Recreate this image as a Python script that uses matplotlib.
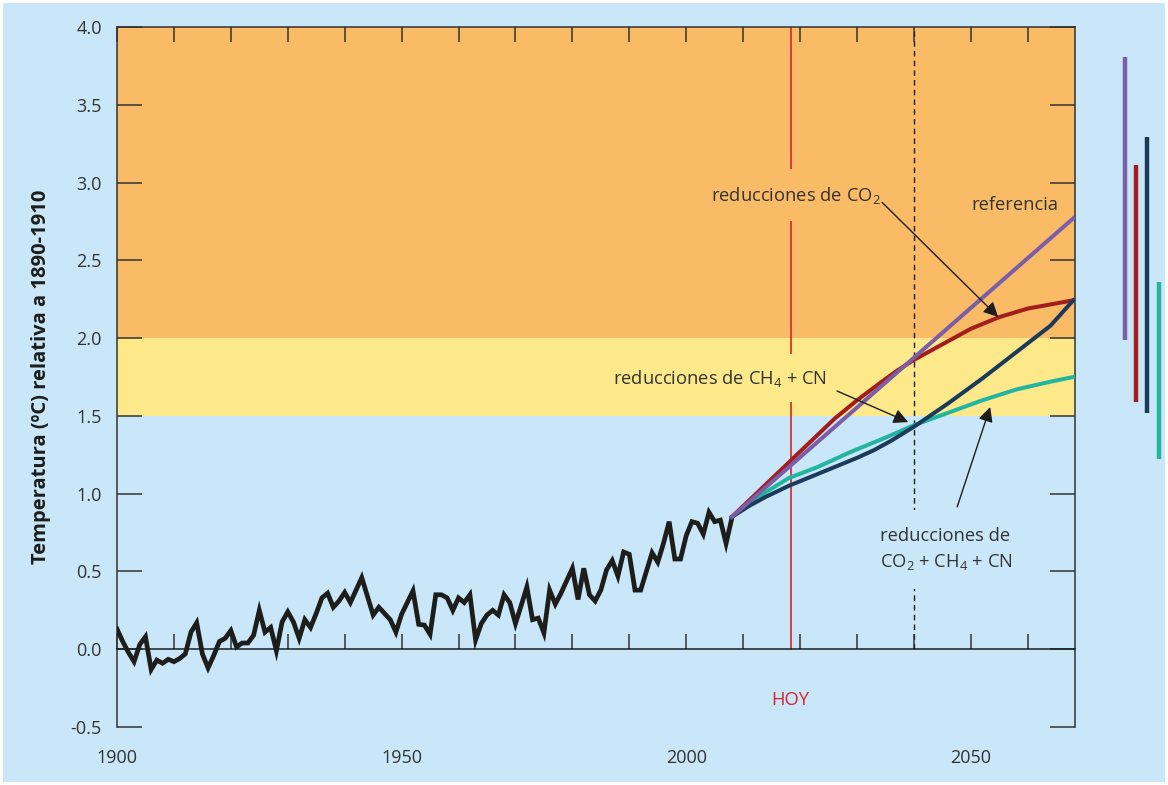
import matplotlib
matplotlib.use("Agg")
import matplotlib.pyplot as plt
from matplotlib.patches import Rectangle
from matplotlib.ticker import MultipleLocator, FixedLocator, FuncFormatter

plt.rcParams['font.family'] = ['Open Sans', 'DejaVu Sans']
plt.rcParams['mathtext.fontset'] = 'custom'
plt.rcParams['mathtext.rm'] = 'Open Sans'
plt.rcParams['mathtext.it'] = 'Open Sans:italic'
plt.rcParams['mathtext.bf'] = 'Open Sans:bold'

# ---- observed temperature anomaly (relative to 1890-1910) ----
obs_years = list(range(1900, 2009))
obs_temp = [
    0.13, 0.05, -0.02, -0.08, 0.03, 0.08, -0.13, -0.07, -0.09, -0.065,
    -0.08, -0.06, -0.03, 0.11, 0.17, -0.03, -0.12, -0.04, 0.05, 0.07,
    0.12, 0.015, 0.04, 0.04, 0.09, 0.25, 0.11, 0.14, -0.01, 0.175,
    0.24, 0.175, 0.07, 0.19, 0.14, 0.23, 0.33, 0.36, 0.27, 0.31,
    0.365, 0.30, 0.38, 0.46, 0.34, 0.22, 0.27, 0.23, 0.19, 0.11,
    0.225, 0.30, 0.375, 0.16, 0.155, 0.096, 0.35, 0.35, 0.33, 0.25,
    0.33, 0.30, 0.35, 0.06, 0.165, 0.22, 0.25, 0.22, 0.35, 0.30,
    0.165, 0.28, 0.40, 0.19, 0.20, 0.105, 0.38, 0.29, 0.36, 0.44,
    0.52, 0.32, 0.52, 0.35, 0.31, 0.38, 0.51, 0.57, 0.47, 0.625,
    0.61, 0.38, 0.38, 0.50, 0.62, 0.56, 0.68, 0.82, 0.58, 0.58,
    0.73, 0.82, 0.81, 0.74, 0.88, 0.82, 0.83, 0.68, 0.84,
]

# ---- scenario projections ----
ref_years = [2008, 2068]
ref_temp = [0.85, 2.77]

co2_years = [2008, 2014, 2018, 2022, 2026, 2030, 2034, 2037, 2040, 2045, 2050, 2055, 2060, 2068]
co2_temp = [0.85, 1.06, 1.20, 1.34, 1.48, 1.60, 1.71, 1.79, 1.86, 1.96, 2.06, 2.135, 2.19, 2.243]

all_years = [2008, 2011, 2014, 2018, 2022, 2026, 2030, 2033, 2036, 2040, 2046, 2052, 2058, 2064, 2068]
all_temp = [0.85, 0.92, 0.98, 1.05, 1.11, 1.17, 1.23, 1.28, 1.34, 1.43, 1.58, 1.74, 1.91, 2.08, 2.243]

ch4_years = [2008, 2011, 2014, 2018, 2023, 2029, 2035, 2040, 2046, 2052, 2058, 2064, 2068]
ch4_temp = [0.85, 0.93, 1.01, 1.10, 1.17, 1.27, 1.36, 1.44, 1.52, 1.60, 1.67, 1.72, 1.75]

# uncertainty ranges shown to the right of the plot
range_x = [2077, 2079, 2081, 2083]
range_lo = [1.99, 1.59, 1.52, 1.22]
range_hi = [3.81, 3.11, 3.29, 2.36]

# ---- styling ----
BG = '#c9e7f8'
ORANGE = '#f9bb66'
YELLOW = '#fde98a'
TXT = '#333333'
BLACK = '#1d1d1b'
C_REF = '#7b5ea7'
C_CO2 = '#a31d1d'
C_ALL = '#1b3a5c'
C_CH4 = '#22b5a0'
C_HOY = '#d6252b'
range_colors = [C_REF, C_CO2, C_ALL, C_CH4]
FS = 13.2

fig = plt.figure(figsize=(11.68, 7.85), dpi=100, facecolor='white')
fig.patches.append(Rectangle((3 / 1168, 3 / 785), 1 - 6 / 1168, 1 - 6 / 785,
                             transform=fig.transFigure, facecolor=BG,
                             edgecolor='none', zorder=-10))

ax = fig.add_axes([117 / 1168, 58 / 785, 958 / 1168, 700 / 785])
ax.set_facecolor(BG)
ax.set_xlim(1900, 2068.3)
ax.set_ylim(-0.5, 4.0)

# warming bands
ax.axhspan(2.0, 4.0, color=ORANGE, lw=0, zorder=0.2)
ax.axhspan(1.5, 2.0, color=YELLOW, lw=0, zorder=0.2)

# "today" and 2040 markers
ax.axvline(2018.4, ymin=0.5 / 4.5, ymax=1, color=C_HOY, lw=1.2, zorder=1)
ax.axvline(2040, ymin=0.5 / 4.5, ymax=1, color=BLACK, lw=1.0,
           dashes=(4, 3), zorder=1)

# series
ax.plot(obs_years, obs_temp, color=BLACK, lw=3.4, solid_joinstyle='miter',
        zorder=5)
ax.plot(ch4_years, ch4_temp, color=C_CH4, lw=2.9, zorder=5)
ax.plot(co2_years, co2_temp, color=C_CO2, lw=2.9, zorder=5)
ax.plot(all_years, all_temp, color=C_ALL, lw=2.9, zorder=5)
ax.plot(ref_years, ref_temp, color=C_REF, lw=2.9, zorder=6)

# ranges outside the axes
for x, lo, hi, c in zip(range_x, range_lo, range_hi, range_colors):
    ax.plot([x, x], [lo, hi], color=c, lw=3.2, clip_on=False,
            solid_capstyle='butt')

# spines and ticks
for side in ['left', 'right', 'top']:
    ax.spines[side].set_color(TXT)
    ax.spines[side].set_linewidth(1.1)
ax.spines['bottom'].set_position(('data', 0))
ax.spines['bottom'].set_color(BLACK)
ax.spines['bottom'].set_linewidth(1.1)

ax.xaxis.set_major_locator(MultipleLocator(10))
ax.tick_params(axis='x', which='major', direction='in', length=10.5,
               width=1.1, color=TXT, top=True, bottom=True,
               labelbottom=False)
ax.yaxis.set_major_locator(MultipleLocator(0.5))
ax.yaxis.set_major_formatter(FuncFormatter(lambda v, p: f'{v:.1f}'))
ax.tick_params(axis='y', which='major', direction='in', length=18,
               width=1.1, color=TXT, left=True, right=True,
               labelsize=13, labelcolor=TXT, pad=11)

sec = ax.secondary_xaxis(0)
sec.xaxis.set_major_locator(FixedLocator([1900, 1950, 2000, 2050]))
sec.tick_params(length=0, labelsize=13, labelcolor=TXT, pad=16)
sec.spines['bottom'].set_visible(False)

ax.set_ylabel('Temperatura (ºC) relativa a 1890-1910', fontsize=14.5,
              fontweight='bold', color=BLACK)
ax.yaxis.set_label_coords(-0.069, 0.5)

# labels and arrows
arrow_kw = dict(arrowstyle='-|>', color=BLACK, lw=1.0, mutation_scale=22,
                shrinkA=0, shrinkB=0)

ax.text(2019.2, 2.918, 'reducciones de CO$_2$', fontsize=FS, color=TXT,
        ha='center', va='center', zorder=3,
        bbox=dict(boxstyle='square,pad=0.85', fc=ORANGE, ec='none'))
ax.annotate('', xy=(2054.8, 2.136), xytext=(2034.4, 2.873),
            arrowprops=arrow_kw, zorder=7)

ax.text(2057.8, 2.853, 'referencia', fontsize=FS, color=TXT,
        ha='center', va='center', zorder=3)

ax.text(2006.0, 1.742, 'reducciones de CH$_4$ + CN', fontsize=FS,
        color=TXT, ha='center', va='center', zorder=3,
        bbox=dict(boxstyle='square,pad=0.75', fc=YELLOW, ec='none'))
ax.annotate('', xy=(2039.0, 1.46), xytext=(2026.5, 1.66),
            arrowprops=arrow_kw, zorder=7)

ax.text(2034.1, 0.643, 'reducciones de\nCO$_2$ + CH$_4$ + CN', fontsize=FS,
        color=TXT, ha='left', va='center', linespacing=1.45, zorder=3,
        bbox=dict(boxstyle='square,pad=0.95', fc=BG, ec='none'))
ax.annotate('', xy=(2053.4, 1.557), xytext=(2047.6, 0.915),
            arrowprops=arrow_kw, zorder=7)

ax.text(2018.3, -0.328, 'HOY', fontsize=FS, color=C_HOY,
        ha='center', va='center')

fig.savefig('out.png', dpi=100, facecolor=fig.get_facecolor())
